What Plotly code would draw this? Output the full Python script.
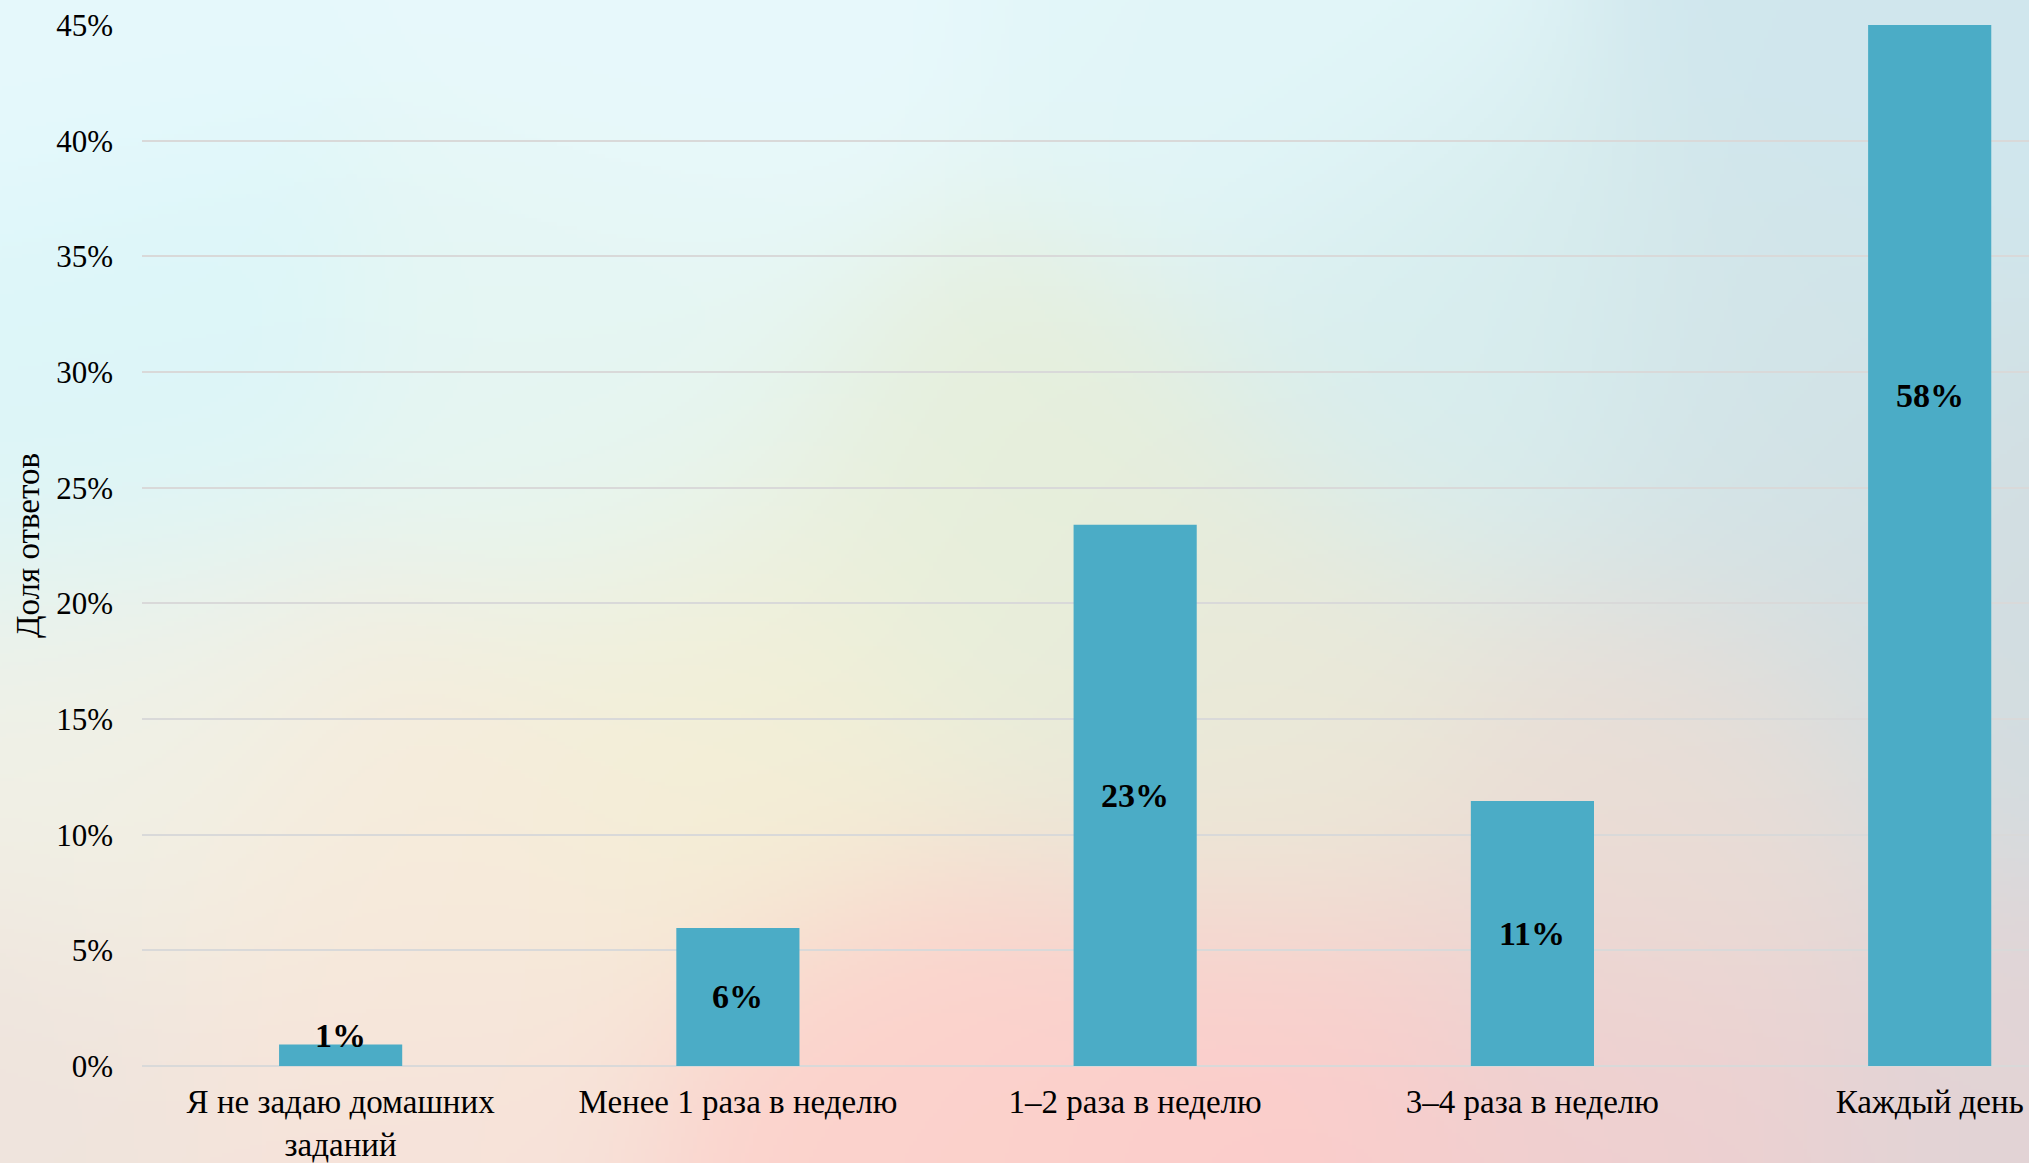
import base64, struct, zlib
import numpy as np
import plotly.graph_objects as go

# ---------------- data ----------------
categories = ["Я не задаю домашних<br>заданий", "Менее 1 раза в неделю",
              "1–2 раза в неделю", "3–4 раза в неделю", "Каждый день"]
shares = [0.0093, 0.0597, 0.234, 0.1146, 0.58]
y_ticks = [0, 0.05, 0.10, 0.15, 0.20, 0.25, 0.30, 0.35, 0.40, 0.45]
y_tick_text = [f"{round(t*100)}%" for t in y_ticks]
y_title = "Доля ответов"

# ---------------- geometry / style ----------------
W, H = 2029, 1163
ML, MR, MT, MB = 142, 0, 25, 97
BAR_COLOR = "#4BACC6"
FONT = "Liberation Serif, Times New Roman, serif"

# ---------------- background picture (soft pastel gradient) ----------------
ctrl = [
    (0.00, 0.00, "#e6f9fc"), (0.35, 0.02, "#e8f9fc"), (0.62, 0.03, "#e2f6f9"),
    (0.95, 0.03, "#d0e7ee"), (0.04, 0.35, "#dcf6f9"), (0.30, 0.35, "#e5f6f3"),
    (0.50, 0.45, "#e6efdc"), (0.72, 0.30, "#d8eeef"), (0.88, 0.35, "#d2e4e8"),
    (0.99, 0.55, "#d2dde1"), (0.06, 0.65, "#f1f1e6"), (0.20, 0.75, "#f7ecdb"),
    (0.36, 0.62, "#f4efd6"), (0.62, 0.62, "#ebe9d8"), (0.82, 0.70, "#eaded6"),
    (0.00, 0.97, "#efe4dd"), (0.20, 0.97, "#f7e2da"), (0.45, 0.97, "#fcd2cc"),
    (0.62, 0.97, "#fccdcb"), (0.80, 0.97, "#efcfd0"), (0.99, 0.97, "#e2d4d6"),
]
iw, ih = 508, 291
xx, yy = np.meshgrid(np.linspace(0, 1, iw), np.linspace(0, 1, ih))
acc = np.zeros((ih, iw, 3)); wsum = np.zeros((ih, iw))
for cx, cy, col in ctrl:
    rgb = np.array([int(col[i:i+2], 16) for i in (1, 3, 5)], float)
    d2 = ((xx - cx) * 1.75) ** 2 + (yy - cy) ** 2
    w = np.exp(-d2 / (2 * 0.13 ** 2)) + 1e-9
    acc += w[..., None] * rgb; wsum += w
img = np.clip(acc / wsum[..., None], 0, 255).astype(np.uint8)

def png_bytes(a):
    h, w, _ = a.shape
    raw = b"".join(b"\x00" + a[r].tobytes() for r in range(h))
    def chunk(t, d):
        return struct.pack(">I", len(d)) + t + d + struct.pack(">I", zlib.crc32(t + d) & 0xffffffff)
    return (b"\x89PNG\r\n\x1a\n" + chunk(b"IHDR", struct.pack(">IIBBBBB", w, h, 8, 2, 0, 0, 0))
            + chunk(b"IDAT", zlib.compress(raw, 9)) + chunk(b"IEND", b""))

bg_uri = "data:image/png;base64," + base64.b64encode(png_bytes(img)).decode()

pw, ph = W - ML - MR, H - MT - MB

# ---------------- figure ----------------
fig = go.Figure()
fig.add_trace(go.Bar(x=categories, y=shares, marker_color=BAR_COLOR,
                     marker_line_width=0, width=0.31, hoverinfo="skip"))

y_max = 0.45
px_per_unit = ph / y_max
for cat, v in zip(categories, shares):
    yc = v / 2
    shift = max(0.0, 30 - yc * px_per_unit)
    fig.add_annotation(x=cat, y=yc, text=f"<b>{v:.0%}</b>", showarrow=False,
                       yshift=shift, font=dict(family=FONT, size=34, color="#000000"))

fig.add_layout_image(source=bg_uri, xref="paper", yref="paper",
                     x=-ML / pw, y=1 + MT / ph, sizex=W / pw, sizey=H / ph,
                     xanchor="left", yanchor="top", sizing="stretch", layer="below")

fig.update_layout(
    width=W, height=H, margin=dict(l=ML, r=MR, t=MT, b=MB, autoexpand=False),
    paper_bgcolor="#f2e8e2", plot_bgcolor="rgba(0,0,0,0)",
    showlegend=False, font=dict(family=FONT, size=31, color="#000000"),
)
fig.update_xaxes(range=[-0.5, 4.25], showgrid=False, zeroline=False, showline=False,
                 ticks="", ticklabelstandoff=13, tickfont=dict(size=33), automargin=False)
fig.update_yaxes(range=[0, y_max], tickvals=y_ticks, ticktext=y_tick_text,
                 showgrid=True, gridcolor="#d9d9d9", gridwidth=2,
                 zeroline=True, zerolinecolor="#d9d9d9", zerolinewidth=2,
                 showline=False, ticks="", ticklabelstandoff=28,
                 tickfont=dict(size=31), automargin=False,
                 title=dict(text=y_title, standoff=6, font=dict(size=33)))

fig.write_html("out.html", config={"displayModeBar": False},
               post_script="document.body.style.margin='0';document.body.style.overflow='hidden';")
